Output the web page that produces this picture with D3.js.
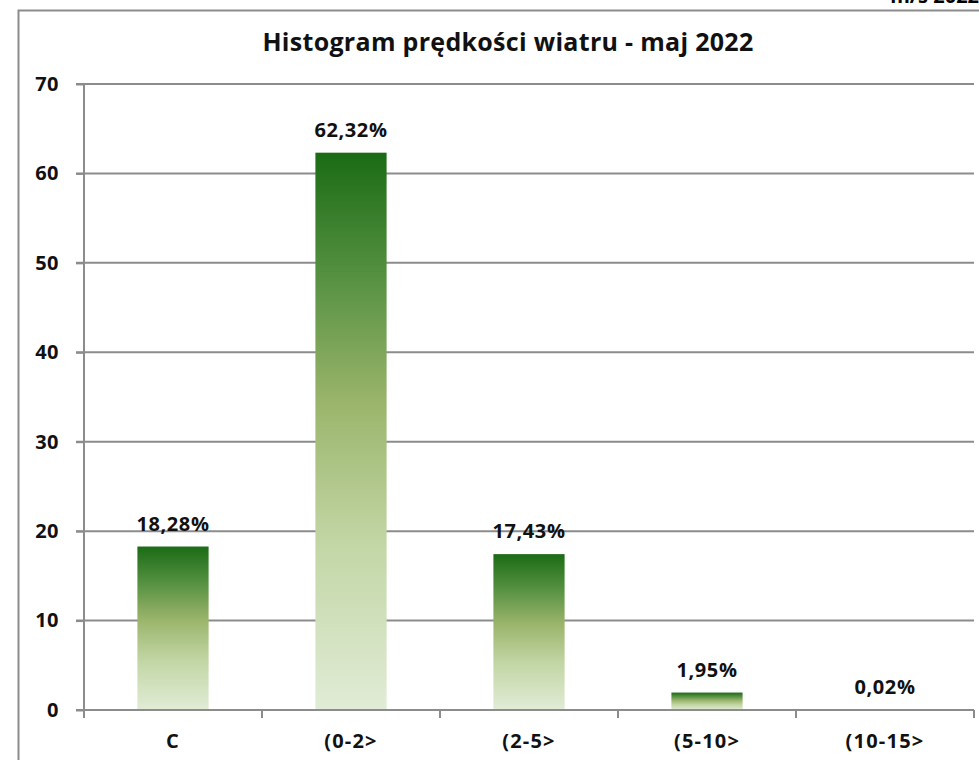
<!DOCTYPE html>
<html>
<head>
<meta charset="utf-8">
<script src="https://cdn.jsdelivr.net/npm/d3@7"></script>
<style>
  body { margin: 0; background: #fff; }
  svg { display: block; font-family: "Open Sans", "Noto Sans", sans-serif; }
</style>
</head>
<body>
<svg id="canvas"></svg>
<script>
const width = 979, height = 760;

/* data */
const categories = ["C", "(0-2>", "(2-5>", "(5-10>", "(10-15>"];
const values = [18.28, 62.32, 17.43, 1.95, 0.02];
const valueLabels = ["18,28%", "62,32%", "17,43%", "1,95%", "0,02%"];
const yTicks = [0, 10, 20, 30, 40, 50, 60, 70];
const titleText = "Histogram prędkości wiatru - maj 2022";

const gridColor = "#8c8c8c";
const fontStack = "Open Sans, Noto Sans, sans-serif";

const svg = d3.select("#canvas")
    .attr("width", width)
    .attr("height", height);

/* outer frame (cut off at right and bottom) */
svg.append("rect")
    .attr("x", 18.5).attr("y", 10.5)
    .attr("width", 1000).attr("height", 1000)
    .attr("fill", "#fff")
    .attr("stroke", gridColor)
    .attr("stroke-width", 2);

/* clipped text at very top right */
svg.append("text")
    .attr("x", 979).attr("y", 3)
    .attr("text-anchor", "end")
    .attr("font-size", 20)
    .attr("font-weight", "bold")
    .text("m/s 2022");

const plot = { left: 84, right: 974, top: 84, bottom: 710 };

const x = d3.scaleBand()
    .domain(categories)
    .range([plot.left, plot.right])
    .paddingInner(0.6)
    .paddingOuter(0.3);

const y = d3.scaleLinear()
    .domain([0, 70])
    .range([plot.bottom, plot.top]);

/* gradient */
const defs = svg.append("defs");
const grad = defs.append("linearGradient")
    .attr("id", "barGrad")
    .attr("x1", 0).attr("y1", 0).attr("x2", 0).attr("y2", 1);
grad.append("stop").attr("offset", "0%").attr("stop-color", "#1b6b15");
grad.append("stop").attr("offset", "20%").attr("stop-color", "#4f8d3d");
grad.append("stop").attr("offset", "45%").attr("stop-color", "#9bb56c");
grad.append("stop").attr("offset", "70%").attr("stop-color", "#c2d6a5");
grad.append("stop").attr("offset", "100%").attr("stop-color", "#e1ecd6");

/* gridlines */
svg.append("g")
    .selectAll("line")
    .data(yTicks.filter(d => d > 0))
    .enter()
    .append("line")
    .attr("x1", plot.left - 8)
    .attr("x2", plot.right)
    .attr("y1", d => y(d))
    .attr("y2", d => y(d))
    .attr("stroke", gridColor)
    .attr("stroke-width", 2);

/* bars */
svg.append("g")
    .selectAll("rect")
    .data(values)
    .enter()
    .append("rect")
    .attr("x", (d, i) => x(categories[i]))
    .attr("y", d => y(d))
    .attr("width", x.bandwidth())
    .attr("height", d => y(0) - y(d))
    .attr("fill", "url(#barGrad)");

/* value labels */
svg.append("g")
    .selectAll("text")
    .data(values)
    .enter()
    .append("text")
    .attr("x", (d, i) => x(categories[i]) + x.bandwidth() / 2)
    .attr("y", d => y(d) - 16)
    .attr("text-anchor", "middle")
    .attr("font-size", 20)
    .attr("font-weight", "bold")
    .attr("letter-spacing", 0.6)
    .attr("fill", "#111")
    .text((d, i) => valueLabels[i]);

/* y axis */
const yAxis = svg.append("g")
    .attr("transform", `translate(${plot.left},0)`)
    .call(d3.axisLeft(y).tickValues(yTicks).tickSize(8).tickPadding(17));
yAxis.select(".domain").attr("stroke", gridColor).attr("stroke-width", 2)
    .attr("d", `M0,${plot.top}V${plot.bottom}`);
yAxis.selectAll(".tick line").attr("stroke", gridColor).attr("stroke-width", 2);
yAxis.selectAll(".tick text")
    .attr("font-size", 20)
    .attr("font-weight", "bold")
    .attr("letter-spacing", 0.5)
    .attr("font-family", fontStack)
    .attr("fill", "#111");

/* x axis */
const xAxis = svg.append("g")
    .attr("transform", `translate(0,${plot.bottom})`)
    .call(d3.axisBottom(x).tickSize(0).tickPadding(24));
xAxis.select(".domain").attr("stroke", gridColor).attr("stroke-width", 2)
    .attr("d", `M${plot.left - 8},0H${plot.right}`);
xAxis.selectAll(".tick text")
    .attr("font-size", 20)
    .attr("font-weight", "bold")
    .attr("letter-spacing", 1.2)
    .attr("font-family", fontStack)
    .attr("fill", "#111");

/* category boundary ticks */
const step = x.step();
const bounds = d3.range(categories.length + 1).map(i => plot.left + i * step);
svg.append("g")
    .selectAll("line")
    .data(bounds)
    .enter()
    .append("line")
    .attr("x1", d => d).attr("x2", d => d)
    .attr("y1", plot.bottom).attr("y2", plot.bottom + 8)
    .attr("stroke", gridColor)
    .attr("stroke-width", 2);

/* title */
svg.append("text")
    .attr("x", 508)
    .attr("y", 51)
    .attr("text-anchor", "middle")
    .attr("font-size", 25)
    .attr("font-weight", "bold")
    .attr("letter-spacing", 0.3)
    .attr("fill", "#111")
    .text(titleText);
</script>
</body>
</html>
